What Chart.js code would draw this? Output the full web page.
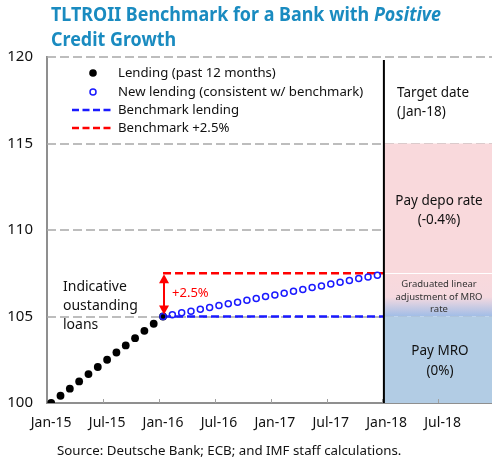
<!DOCTYPE html>
<html>
<head>
<meta charset="utf-8">
<script src="https://cdn.jsdelivr.net/npm/chart.js@4.4.1/dist/chart.umd.min.js"></script>
<style>
  html, body { margin: 0; padding: 0; background: #fff; }
  #wrap { width: 492px; height: 461px; }
</style>
</head>
<body>
<div id="wrap"><canvas id="tltro" width="492" height="461"></canvas></div>
<script>
// months are counted from Jan-15 = 0
var tickMonths = [0, 6, 12, 18, 24, 30, 36, 42];
var tickLabels = ['Jan-15', 'Jul-15', 'Jan-16', 'Jul-16', 'Jan-17', 'Jul-17', 'Jan-18', 'Jul-18'];

var lendingMonths = [0, 1, 2, 3, 4, 5, 6, 7, 8, 9, 10, 11, 12];
var lendingValues = [100, 100.42, 100.83, 101.25, 101.67, 102.08, 102.5, 102.92, 103.33, 103.75, 104.17, 104.58, 105];

var newLendingMonths = [12, 13, 14, 15, 16, 17, 18, 19, 20, 21, 22, 23, 24, 25, 26, 27, 28, 29, 30, 31, 32, 33, 34, 35];
var newLendingValues = [105, 105.1, 105.21, 105.31, 105.42, 105.52, 105.63, 105.73, 105.83, 105.94, 106.04, 106.15,
  106.25, 106.35, 106.46, 106.56, 106.67, 106.77, 106.88, 106.98, 107.08, 107.19, 107.29, 107.38];

var benchMonths = [12, 35.7];
var benchLending = [105, 105];
var benchPlus = [107.5, 107.5];

var targetMonth = 35.7;
var gridValues = [105, 110, 115, 120];
var depoBand = [107.5, 115];
var gradualBand = [105, 107.5];
var mroBand = [100, 105];

var FONT = '"Noto Sans", "Open Sans", sans-serif';
Chart.defaults.font.family = FONT;

function pts(xs, ys) {
  return xs.map(function (x, i) { return { x: x, y: ys[i] }; });
}

var backdrop = {
  id: 'backdrop',
  beforeDatasetsDraw: function (chart) {
    var ctx = chart.ctx, a = chart.chartArea;
    var xs = chart.scales.x, ys = chart.scales.y;
    ctx.save();

    // dashed horizontal grid
    ctx.strokeStyle = '#a8a8a8';
    ctx.lineWidth = 1.5;
    ctx.setLineDash([9, 4]);
    gridValues.forEach(function (v) {
      var y = Math.round(ys.getPixelForValue(v));
      ctx.beginPath();
      ctx.moveTo(a.left, y);
      ctx.lineTo(a.right, y);
      ctx.stroke();
    });
    ctx.setLineDash([]);

    // rate bands after the target date
    var x0 = xs.getPixelForValue(targetMonth);
    var w = a.right - x0;
    var t, b;
    t = ys.getPixelForValue(depoBand[1]); b = ys.getPixelForValue(depoBand[0]);
    ctx.fillStyle = '#f9d9dc';
    ctx.fillRect(x0, t, w, b - t);

    t = ys.getPixelForValue(gradualBand[1]); b = ys.getPixelForValue(gradualBand[0]);
    var g = ctx.createLinearGradient(0, t, 0, b);
    g.addColorStop(0, '#f9d9dc');
    g.addColorStop(0.55, '#f5d9df');
    g.addColorStop(1, '#a0bde7');
    ctx.fillStyle = g;
    ctx.fillRect(x0, t, w, b - t);

    t = ys.getPixelForValue(mroBand[1]); b = ys.getPixelForValue(mroBand[0]);
    ctx.fillStyle = '#b2cce4';
    ctx.fillRect(x0, t, w, b - t);

    // thin white split at the +2.5% level
    var ys2 = Math.round(ys.getPixelForValue(gradualBand[1])) + 0.5;
    ctx.strokeStyle = '#ffffff';
    ctx.lineWidth = 1;
    ctx.beginPath();
    ctx.moveTo(x0, ys2);
    ctx.lineTo(a.right, ys2);
    ctx.stroke();

    // small inner tick marks on the time axis
    ctx.strokeStyle = '#a0a0a0';
    ctx.lineWidth = 1;
    tickMonths.forEach(function (m) {
      if (m === 0) return;
      var x = Math.round(xs.getPixelForValue(m - 0.45)) + 0.5;
      ctx.beginPath();
      ctx.moveTo(x, a.bottom);
      ctx.lineTo(x, a.bottom - 4);
      ctx.stroke();
    });
    ctx.restore();
  },
  afterDatasetsDraw: function (chart) {
    var ctx = chart.ctx, a = chart.chartArea;
    var xs = chart.scales.x, ys = chart.scales.y;
    ctx.save();

    // target date marker
    var x0 = xs.getPixelForValue(targetMonth);
    ctx.strokeStyle = '#000';
    ctx.lineWidth = 2;
    ctx.beginPath();
    ctx.moveTo(x0, a.top + 3);
    ctx.lineTo(x0, a.bottom);
    ctx.stroke();

    // +2.5% double arrow
    var ax = xs.getPixelForValue(benchMonths[0]) + 1;
    var yTop = ys.getPixelForValue(benchPlus[0]) + 1;
    var yBot = ys.getPixelForValue(benchLending[0]) - 2;
    ctx.strokeStyle = '#ff0000';
    ctx.fillStyle = '#ff0000';
    ctx.lineWidth = 2;
    ctx.beginPath();
    ctx.moveTo(ax, yTop + 8);
    ctx.lineTo(ax, yBot - 8);
    ctx.stroke();
    ctx.beginPath();
    ctx.moveTo(ax, yTop); ctx.lineTo(ax - 5, yTop + 9); ctx.lineTo(ax + 5, yTop + 9); ctx.closePath();
    ctx.fill();
    ctx.beginPath();
    ctx.moveTo(ax, yBot); ctx.lineTo(ax - 5, yBot - 9); ctx.lineTo(ax + 5, yBot - 9); ctx.closePath();
    ctx.fill();
    ctx.font = '13px ' + FONT;
    ctx.textBaseline = 'middle';
    ctx.fillText('+2.5%', ax + 8, 293);

    // legend
    ctx.fillStyle = '#000';
    ctx.beginPath();
    ctx.arc(93, 73, 3.8, 0, Math.PI * 2);
    ctx.fill();
    ctx.strokeStyle = '#1a1aff';
    ctx.lineWidth = 1.5;
    ctx.beginPath();
    ctx.arc(93, 92, 3, 0, Math.PI * 2);
    ctx.stroke();
    ctx.lineWidth = 2.5;
    ctx.setLineDash([7, 3.5]);
    ctx.strokeStyle = '#1a1aff';
    ctx.beginPath(); ctx.moveTo(72, 110); ctx.lineTo(114, 110); ctx.stroke();
    ctx.strokeStyle = '#ff0000';
    ctx.beginPath(); ctx.moveTo(72, 128); ctx.lineTo(114, 128); ctx.stroke();
    ctx.setLineDash([]);

    ctx.fillStyle = '#111';
    ctx.font = '13.2px ' + FONT;
    ctx.textAlign = 'left';
    ctx.fillText('Lending (past 12 months)', 118, 73);
    ctx.fillText('New lending (consistent w/ benchmark)', 118, 92);
    ctx.fillText('Benchmark lending', 118, 110);
    ctx.fillText('Benchmark +2.5%', 118, 128);

    // annotations
    ctx.font = '14px ' + FONT;
    ctx.fillText('Indicative', 63, 287);
    ctx.fillText('oustanding', 63, 306);
    ctx.fillText('loans', 63, 325);
    ctx.font = '13.5px ' + FONT;
    ctx.fillText('Target date', 397, 93);
    ctx.fillText('(Jan-18)', 397, 112);

    ctx.textAlign = 'center';
    ctx.fillText('Pay depo rate', 439, 201);
    ctx.fillText('(-0.4%)', 439, 220);
    ctx.fillText('Pay MRO', 440, 351);
    ctx.fillText('(0%)', 440, 371);
    ctx.fillStyle = '#333';
    ctx.font = '9.5px ' + FONT;
    ctx.fillText('Graduated linear', 439, 284);
    ctx.fillText('adjustment of MRO', 439, 297);
    ctx.fillText('rate', 439, 309);
    ctx.restore();
  },
  afterDraw: function (chart) {
    var ctx = chart.ctx;
    ctx.save();
    // title, bold with the italic word
    var f1 = 'bold 19px ' + FONT, f2 = 'italic bold 19px ' + FONT;
    var main = 'TLTROII Benchmark for a Bank with ', em = 'Positive';
    ctx.font = f1;
    var w1 = ctx.measureText(main).width;
    ctx.font = f2;
    var w2 = ctx.measureText(em).width;
    var s = 390 / (w1 + w2);
    ctx.fillStyle = '#1a8bc0';
    ctx.textBaseline = 'alphabetic';
    ctx.translate(51, 21);
    ctx.scale(s, 1);
    ctx.font = f1;
    ctx.fillText(main, 0, 0);
    ctx.font = f2;
    ctx.fillText(em, w1, 0);
    ctx.font = f1;
    ctx.fillText('Credit Growth', 0, 25);
    ctx.restore();

    ctx.save();
    ctx.fillStyle = '#111';
    ctx.font = '13.3px ' + FONT;
    ctx.textBaseline = 'middle';
    ctx.fillText('Source: Deutsche Bank; ECB; and IMF staff calculations.', 57, 451);
    ctx.restore();
  }
};

var ctx = document.getElementById('tltro').getContext('2d');
var chart = new Chart(ctx, {
  type: 'scatter',
  data: {
    datasets: [{
      label: 'New lending (consistent w/ benchmark)',
      data: pts(newLendingMonths, newLendingValues),
      pointRadius: 3,
      pointBorderWidth: 1.5,
      pointBorderColor: '#1a1aff',
      pointBackgroundColor: 'rgba(0,0,0,0)'
    }, {
      label: 'Lending (past 12 months)',
      data: pts(lendingMonths, lendingValues),
      pointRadius: 3.9,
      pointBorderWidth: 0,
      pointBackgroundColor: '#000'
    }, {
      label: 'Benchmark lending',
      data: pts(benchMonths, benchLending),
      showLine: true,
      borderColor: '#1a1aff',
      borderWidth: 2.5,
      borderDash: [8, 4],
      pointRadius: 0
    }, {
      label: 'Benchmark +2.5%',
      data: pts(benchMonths, benchPlus),
      showLine: true,
      borderColor: '#ff0000',
      borderWidth: 2.5,
      borderDash: [8, 4],
      pointRadius: 0
    }]
  },
  options: {
    responsive: false,
    animation: false,
    layout: { autoPadding: false, padding: { top: 57, right: 0, bottom: 0, left: 0 } },
    plugins: { legend: { display: false }, tooltip: { enabled: false } },
    scales: {
      x: {
        type: 'linear',
        min: -0.45,
        max: 47.3,
        afterBuildTicks: function (scale) {
          scale.ticks = tickMonths.map(function (m) { return { value: m }; });
        },
        afterFit: function (scale) {
          scale.height = 58;
          scale.paddingLeft = 0;
          scale.paddingRight = 0;
        },
        ticks: {
          autoSkip: false,
          maxRotation: 0,
          padding: 12,
          color: '#111',
          font: { size: 14 },
          callback: function (v, i) { return tickLabels[i]; }
        },
        grid: { display: false, drawTicks: false },
        border: { color: '#8f8f8f', width: 2 }
      },
      y: {
        min: 100,
        max: 120,
        afterFit: function (scale) { scale.width = 47; },
        ticks: { stepSize: 5, padding: 14, color: '#111', font: { size: 15 } },
        grid: { display: false, drawTicks: false },
        border: { color: '#8f8f8f', width: 2 }
      }
    }
  },
  plugins: [backdrop]
});
</script>
</body>
</html>
